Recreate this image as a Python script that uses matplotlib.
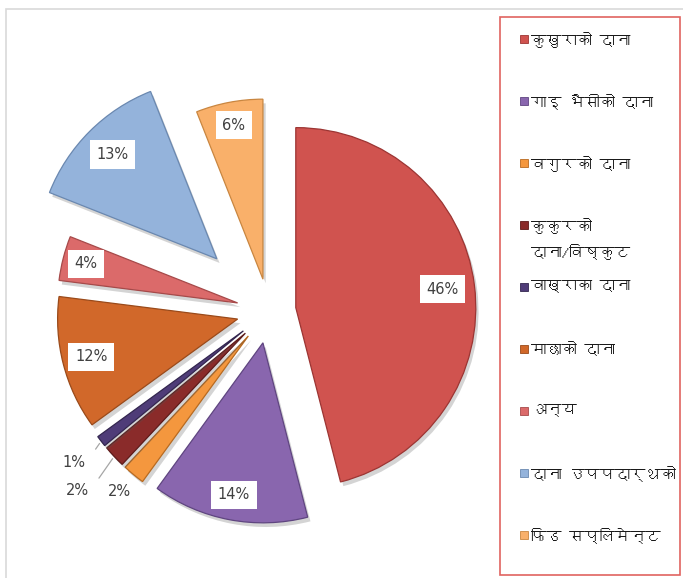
"""
Exploded pie of feed types (Nepali labels) with a boxed legend on the right.
"""
import matplotlib
matplotlib.use('Agg')
import matplotlib.pyplot as plt
import matplotlib.patheffects as pe
from matplotlib import font_manager
from matplotlib.ft2font import FT2Font
from matplotlib.patches import Rectangle
import numpy as np

categories = ['कुखुराको दाना', 'गाइ भैसीको दाना', 'वगुरको दाना',
              'कुकुरको\nदाना/विष्कुट', 'वाख्राका दाना', 'माछाको दाना',
              'अन्य', 'दाना उपपदार्थको', 'फिड सप्लिमेन्ट']
shares = [46, 14, 2, 2, 1, 12, 4, 13, 6]
pct_labels = ['46%', '14%', '2%', '2%', '1%', '12%', '4%', '13%', '6%']

colors = ['#D0534F', '#8966AE', '#F4973E', '#8A2B2A', '#4F3C78',
          '#D1682A', '#DB6A6A', '#94B3DB', '#F9B06A']
edges = ['#9C3533', '#5F4580', '#B86A20', '#5E1B1A', '#33264F',
         '#9A4A1A', '#A64A4A', '#6A88B0', '#C98640']
# explosion as a fraction of the radius
explode = [0.15, 0.18, 0.18, 0.18, 0.18, 0.18, 0.18, 0.41, 0.18]
# label distance (fraction of radius from the exploded centre), box or not
label_dist = [0.82, 0.86, 1.12, 1.28, 1.19, 0.84, 0.87, 0.82, 0.87]
boxed = [True, True, False, False, False, True, True, True, True]


def devanagari_family():
    """Pick an installed font that covers Devanagari, if there is one."""
    for f in font_manager.fontManager.ttflist:
        try:
            if 0x0915 in FT2Font(f.fname).get_charmap():
                return f.name
        except Exception:
            continue
    return None


fam = devanagari_family()
plt.rcParams['font.family'] = ([fam] if fam else []) + ['DejaVu Sans']

W, H = 683, 578
fig = plt.figure(figsize=(W / 100, H / 100), dpi=100)
ax = fig.add_axes([0, 0, 1, 1])

R = 180
center = (269, H - 311)
# pie() takes the explode offset in data units, not as a fraction of radius
wedges, _ = ax.pie(shares, colors=colors, explode=[e * R for e in explode],
                   radius=R, center=center, startangle=90, counterclock=False,
                   wedgeprops=dict(linewidth=0.9))
for w, ec in zip(wedges, edges):
    w.set_edgecolor(ec)
    w.set_path_effects([pe.SimplePatchShadow(offset=(2, -3), alpha=0.25,
                                             shadow_rgbFace='#555555'),
                        pe.Normal()])

# pie() sets its own limits, so fix the pixel-like frame afterwards
ax.set_xlim(0, W)
ax.set_ylim(0, H)
ax.set_aspect('equal')
ax.axis('off')

# outer chart frame (light gray)
ax.add_patch(Rectangle((6, -20), W + 20, H - 9 + 20, fill=False,
                       edgecolor='#D9D9D9', lw=1.2))

for w, txt, d, b in zip(wedges, pct_labels, label_dist, boxed):
    mid = np.deg2rad((w.theta1 + w.theta2) / 2)
    cx, cy = w.center
    x = cx + d * w.r * np.cos(mid)
    y = cy + d * w.r * np.sin(mid)
    bbox = dict(boxstyle='square,pad=0.45', fc='white', ec='none') if b else None
    if d > 1.15:
        # small slices: leader line from label to the wedge rim
        tx = cx + 1.0 * w.r * np.cos(mid)
        ty = cy + 1.0 * w.r * np.sin(mid)
        ax.annotate(txt, xy=(tx, ty), xytext=(x, y), ha='center', va='center',
                    fontsize=10.5, color='#404040', family='DejaVu Sans',
                    arrowprops=dict(arrowstyle='-', color='#A6A6A6', lw=0.9,
                                    shrinkA=9, shrinkB=2,
                                    connectionstyle='angle,angleA=0,angleB=55,rad=0'))
    else:
        ax.text(x, y, txt, ha='center', va='center', fontsize=10.5,
                color='#404040', family='DejaVu Sans', bbox=bbox)

# legend box
ax.add_patch(Rectangle((500, H - 575), 180, 558, fill=False,
                       edgecolor='#E06360', lw=1.2))
leg_top = H - 42
leg_step = 62
for i, (lab, c, ec) in enumerate(zip(categories, colors, edges)):
    y = leg_top - i * leg_step
    ax.add_patch(Rectangle((520, y - 1), 8, 8, facecolor=c, edgecolor=ec, lw=0.6))
    ax.text(531, y + 10, lab, ha='left', va='top', fontsize=11,
            color='#1A1A1A', linespacing=1.75)

fig.savefig('out.png', dpi=100)
